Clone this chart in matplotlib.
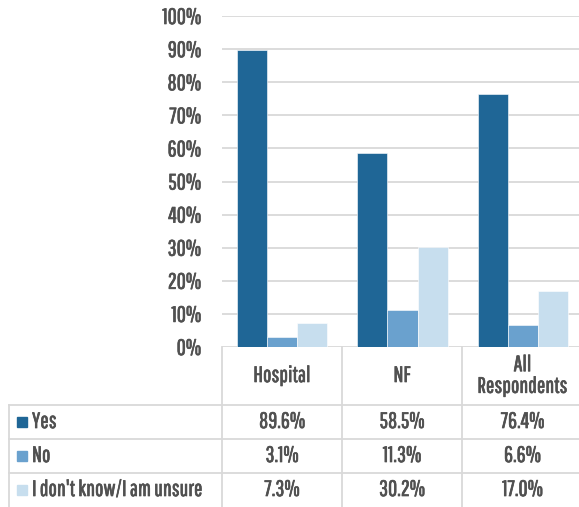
import numpy as np
import matplotlib.pyplot as plt
import matplotlib.patheffects as pe
from matplotlib.patches import Rectangle
from matplotlib.lines import Line2D

categories = ['Hospital', 'NF', 'All\nRespondents']
series = ['Yes', 'No', "I don't know/I am unsure"]
yes = [89.6, 58.5, 76.4]
no = [3.1, 11.3, 6.6]
unsure = [7.3, 30.2, 17.0]
colors = ['#1F6696', '#6AA1CE', '#C7DEEE']
y_ticks = [0, 10, 20, 30, 40, 50, 60, 70, 80, 90, 100]

plt.rcParams['font.family'] = ['Pathway Gothic One', 'DejaVu Sans']
FS = 16
TXT = '#505050'
GRID = '#D9D9D9'
W, H = 579, 507
# slightly heavier strokes to mimic the bolder original font
thick = [pe.withStroke(linewidth=0.5, foreground=TXT)]


def fx(px):
    return px / W


def fy(py):
    return 1 - py / H


fig = plt.figure(figsize=(W / 100, H / 100), dpi=100)
ax = fig.add_axes([fx(222), fy(347), (583 - 222) / W, (347 - 16) / H])

x = np.arange(len(categories))
bw = 0.25
for i, (vals, c) in enumerate(zip([yes, no, unsure], colors)):
    ax.bar(x + (i - 1) * bw, vals, bw, color=c, edgecolor='white', linewidth=0.4, zorder=3)

ax.set_xlim(-0.5, len(categories) - 0.5)
ax.set_ylim(0, 100)
ax.set_yticks(y_ticks)
ax.set_yticklabels([f'{t}%' for t in y_ticks], fontsize=FS, color=TXT, path_effects=thick)
ax.set_xticks([])
ax.tick_params(axis='y', length=0, pad=15)
ax.yaxis.grid(True, color=GRID, linewidth=1.3)
ax.set_axisbelow(True)
for s in ax.spines.values():
    s.set_visible(False)

# data table below the chart
col_edges = [222, 342, 462, 583]
row_edges = [347, 405, 439, 473, 507]


def hline(y, x0, x1):
    fig.add_artist(Line2D([fx(x0), fx(x1)], [fy(y), fy(y)], color=GRID, lw=1.3))


def vline(xp, y0, y1):
    fig.add_artist(Line2D([fx(xp), fx(xp)], [fy(y0), fy(y1)], color=GRID, lw=1.3))


for r in row_edges[1:4]:
    hline(r, 9, 583)
vline(9, 405, 507)
for c in col_edges[:3]:
    vline(c, 347, 507)

for j, cat in enumerate(categories):
    cx = (col_edges[j] + col_edges[j + 1]) / 2
    fig.text(fx(cx), fy(376), cat, ha='center', va='center', fontsize=FS,
             color=TXT, linespacing=1.1, path_effects=thick)

for i, (name, vals, c) in enumerate(zip(series, [yes, no, unsure], colors)):
    cy = (row_edges[i + 1] + row_edges[i + 2]) / 2
    fig.add_artist(Rectangle((fx(17), fy(cy + 5)), 10 / W, 10 / H, color=c,
                             transform=fig.transFigure))
    fig.text(fx(32), fy(cy), name, ha='left', va='center', fontsize=FS, color=TXT,
             path_effects=thick)
    for j, v in enumerate(vals):
        cx = (col_edges[j] + col_edges[j + 1]) / 2
        fig.text(fx(cx), fy(cy), f'{v:.1f}%', ha='center', va='center',
                 fontsize=FS, color=TXT, path_effects=thick)

fig.savefig('out.png', dpi=100)
